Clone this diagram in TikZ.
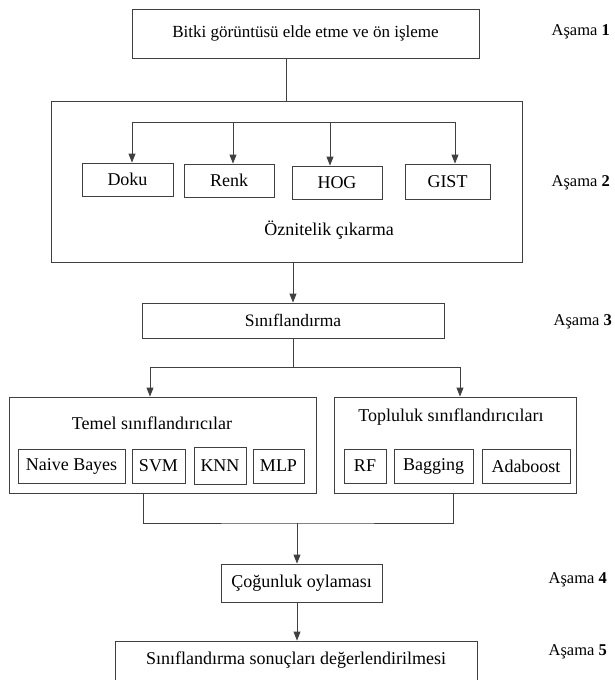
\documentclass[tikz,border=0pt]{standalone}
\usepackage{fontspec}
\setmainfont{Liberation Serif}
\usetikzlibrary{positioning,arrows.meta,calc}

\begin{document}
\begin{tikzpicture}[
  x=1pt, y=-1pt,
  box/.style={draw=black!75, line width=0.9pt, inner sep=0pt, align=center, font=\fontsize{17}{20}\selectfont},
  big/.style={font=\fontsize{18}{21}\selectfont},
  sz/.style 2 args={minimum width=#1pt, minimum height=#2pt},
  lbl/.style={inner sep=0pt, font=\fontsize{18}{21}\selectfont},
  stage/.style={inner sep=0pt, anchor=east, font=\fontsize{16.5}{19}\selectfont},
  line/.style={draw=black!75, line width=0.9pt},
  arr/.style={line, -{Triangle[length=9pt, width=7pt]}}]
  \useasboundingbox (0,0) rectangle (614,680);
  % stage 1 and 2
  \node[box, sz={347}{49}] (top) at (305.5,33.5) {Bitki görüntüsü elde etme ve ön işleme};
  \node[box, sz={471}{161}] (feat) at (286.5,181.5) {};
  \node[lbl] (featlbl) at (329,230) {Öznitelik çıkarma};
  \node[box, big, sz={91}{33}] (doku) at (127.5,179.5) {Doku};
  \node[box, big, sz={90}{33}] (renk) at (229,180.5) {Renk};
  \node[box, big, sz={90}{33}] (hog) at (337,182.5) {HOG};
  \node[box, big, sz={85}{35}] (gist) at (447.5,181.5) {GIST};
  \draw[line] ([xshift=-19.5pt]top.south) -- ([xshift=-19.5pt]top.south |- feat.north);
  \coordinate (fa) at (132,122);
  \coordinate (fb) at (455,122);
  \draw[line] (fa) -- (fb);
  \foreach \n/\dx in {doku/4.5, renk/4, hog/-7, gist/7.5}
    \draw[arr] ([xshift=\dx pt]\n.north |- fa) -- ([xshift=\dx pt]\n.north);
  % stage 3
  \node[box, font=\fontsize{17.5}{20}\selectfont, sz={302}{35}] (cls) at (293,320.5) {Sınıflandırma};
  \draw[arr] (cls.north |- feat.south) -- (cls.north);
  \node[box, sz={307}{96}] (base) at (162.5,445) {};
  \node[box, sz={242}{96}] (ens) at (455,445) {};
  \node[lbl] (baselbl) at (152,423) {Temel sınıflandırıcılar};
  \node[lbl] (enslbl) at (451,417) {Topluluk sınıflandırıcıları};
  \node[box, big, sz={107}{34}] (nb) at (71.5,466) {Naive Bayes};
  \node[box, big, sz={53}{34}] (svm) at (158.5,466) {SVM};
  \node[box, big, sz={52}{37}] (knn) at (220,466) {KNN};
  \node[box, big, sz={51}{34}] (mlp) at (278.5,466) {MLP};
  \node[box, big, sz={42}{34}] (rf) at (365,466) {RF};
  \node[box, big, sz={79}{34}] (bag) at (433.5,466) {Bagging};
  \node[box, big, sz={88}{34}] (ada) at (526,466) {Adaboost};
  \draw[line] (cls.south) -- ++(0,29) coordinate (cj);
  \draw[arr] (cj) -| ([xshift=-12.5pt]base.north);
  \draw[arr] (cj) -| ([xshift=5pt]ens.north);
  % stage 4 and 5
  \node[box, big, sz={161}{38}] (vote) at (301.5,583) {Çoğunluk oylaması};
  \node[box, big, sz={362}{48}, text depth=14pt] (eval) at (296,665) {Sınıflandırma sonuçları değerlendirilmesi};
  \coordinate (mj) at (297,523);
  \draw[line] ([xshift=-19.5pt]base.south) |- (mj) -| ([xshift=-2pt]ens.south);
  \draw[arr] (mj) -- (mj |- vote.north);
  \draw[arr] (mj |- vote.south) -- (mj |- eval.north);
  % stage labels
  \node[stage] (s1) at (610,32) {Aşama \textbf{1}};
  \node[stage] (s2) at (610,183) {Aşama \textbf{2}};
  \node[stage] (s3) at (612,322) {Aşama \textbf{3}};
  \node[stage] (s4) at (607,580) {Aşama \textbf{4}};
  \node[stage] (s5) at (607,652) {Aşama \textbf{5}};
\end{tikzpicture}
\end{document}
